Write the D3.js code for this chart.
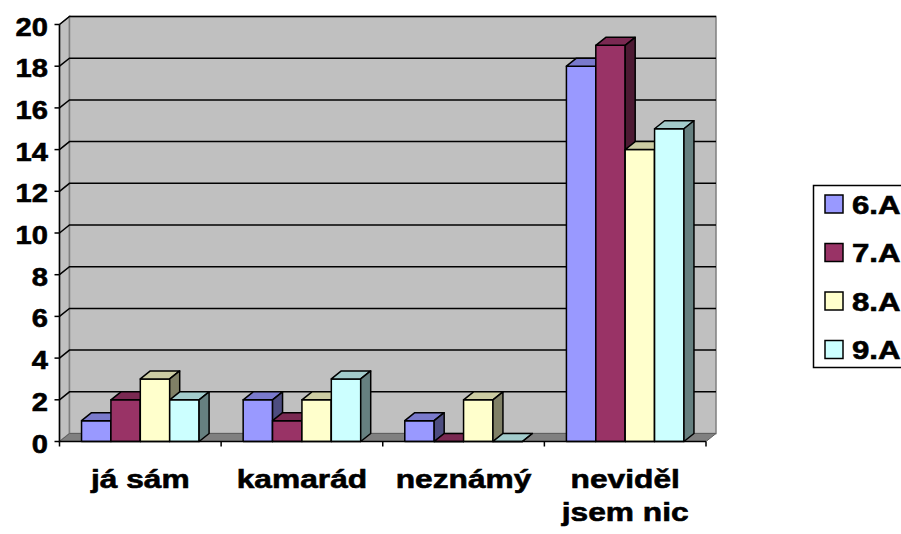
<!DOCTYPE html>
<html>
<head>
<meta charset="utf-8">
<script src="https://cdn.jsdelivr.net/npm/d3@7"></script>
<style>
  body { margin: 0; background: #fff; }
  text { font-family: "Liberation Sans", Arial, sans-serif; font-weight: bold; fill: #000; stroke: #000; stroke-width: 0.6px; }
</style>
</head>
<body>
<div id="chart"></div>
<script>
// data
const categories = ['já sám', 'kamarád', 'neznámý', 'neviděl jsem nic'];
const categoryLines = [['já sám'], ['kamarád'], ['neznámý'], ['neviděl', 'jsem nic']];
const seriesNames = ['6.A', '7.A', '8.A', '9.A'];
const values6A = [1, 2, 1, 18];
const values7A = [2, 1, 0, 19];
const values8A = [3, 2, 2, 14];
const values9A = [2, 3, 0, 15];
const yTicks = [0, 2, 4, 6, 8, 10, 12, 14, 16, 18, 20];

const seriesValues = [values6A, values7A, values8A, values9A];
const fronts = ['#9999FF', '#993366', '#FFFFCC', '#CCFFFF'];

function shade(c, k) {
    const r = d3.rgb(c);
    return d3.rgb(r.r * k, r.g * k, r.b * k).formatHex();
}

const width = 901, height = 534;
const depthX = 10, depthY = -8;

const svg = d3.select('#chart')
    .append('svg')
    .attr('width', width)
    .attr('height', height);

const x = d3.scaleBand()
    .domain(categories)
    .range([59.5, 706])
    .paddingInner(0)
    .paddingOuter(0);

const xs = d3.scaleBand()
    .domain(seriesNames)
    .range([0, x.bandwidth()])
    .paddingInner(0)
    .paddingOuter(0.75);

const y = d3.scaleLinear()
    .domain([0, 20])
    .range([441.5, 24.5]);

const x0 = x.range()[0], x1 = x.range()[1];
const yb = y(0), yt = y(20);

const poly = pts => 'M' + pts.map(p => p.join(',')).join('L') + 'Z';

// side wall
svg.append('path')
    .attr('d', poly([[x0, yb], [x0 + depthX, yb + depthY], [x0 + depthX, yt + depthY], [x0, yt]]))
    .style('fill', '#C0C0C0')
    .style('stroke', '#808080')
    .style('stroke-width', 1.5);

// back wall
svg.append('rect')
    .attr('x', x0 + depthX)
    .attr('y', yt + depthY)
    .attr('width', x1 - x0)
    .attr('height', yb - yt)
    .style('fill', '#C0C0C0')
    .style('stroke', '#808080')
    .style('stroke-width', 1.5);

// floor
svg.append('path')
    .attr('d', poly([[x0, yb], [x1, yb], [x1 + depthX, yb + depthY], [x0 + depthX, yb + depthY]]))
    .style('fill', '#808080')
    .style('stroke', '#606060')
    .style('stroke-width', 1);

// gridlines on side + back wall
const grid = svg.append('g');
grid.selectAll('.g')
    .data(yTicks.filter(d => d > 0))
    .enter()
    .append('path')
    .attr('d', d => `M${x0},${y(d)}L${x0 + depthX},${y(d) + depthY}L${x1 + depthX},${y(d) + depthY}`)
    .style('fill', 'none')
    .style('stroke', '#000')
    .style('stroke-width', 1.5);

// bars
const bars = svg.append('g');
categories.forEach((c, ci) => {
    seriesNames.forEach((s, si) => {
        const v = seriesValues[si][ci];
        const bx0 = x(c) + xs(s);
        const bx1 = bx0 + xs.bandwidth();
        const top = y(v);
        const g = bars.append('g')
            .style('stroke', '#000')
            .style('stroke-width', 1.5)
            .style('stroke-linejoin', 'round');
        g.append('path')
            .attr('d', poly([[bx0, yb], [bx1, yb], [bx1, top], [bx0, top]]))
            .style('fill', fronts[si]);
        g.append('path')
            .attr('d', poly([[bx0, top], [bx1, top], [bx1 + depthX, top + depthY], [bx0 + depthX, top + depthY]]))
            .style('fill', shade(fronts[si], 0.8));
        g.append('path')
            .attr('d', poly([[bx1, yb], [bx1 + depthX, yb + depthY], [bx1 + depthX, top + depthY], [bx1, top]]))
            .style('fill', shade(fronts[si], 0.5));
    });
});

// axes
svg.append('line')
    .attr('x1', x0).attr('x2', x0)
    .attr('y1', yt).attr('y2', yb)
    .style('stroke', '#000').style('stroke-width', 1.5);
svg.append('line')
    .attr('x1', x0).attr('x2', x1)
    .attr('y1', yb).attr('y2', yb)
    .style('stroke', '#000').style('stroke-width', 1.5);

const yAxis = svg.append('g');
yAxis.selectAll('.tick')
    .data(yTicks)
    .enter()
    .append('line')
    .attr('x1', x0 - 5).attr('x2', x0)
    .attr('y1', d => y(d)).attr('y2', d => y(d))
    .style('stroke', '#000').style('stroke-width', 1.5);
yAxis.selectAll('.lbl')
    .data(yTicks)
    .enter()
    .append('text')
    .attr('transform', d => `translate(48,${y(d) + 11}) scale(1.12,1)`)
    .attr('text-anchor', 'end')
    .style('font-size', '26px')
    .text(d => d);

const xAxis = svg.append('g');
xAxis.selectAll('.tick')
    .data(categories.concat(['end']))
    .enter()
    .append('line')
    .attr('x1', (d, i) => i < categories.length ? x(d) : x1)
    .attr('x2', (d, i) => i < categories.length ? x(d) : x1)
    .attr('y1', yb).attr('y2', yb + 5)
    .style('stroke', '#000').style('stroke-width', 1.5);
categoryLines.forEach((lines, ci) => {
    lines.forEach((t, li) => {
        xAxis.append('text')
            .attr('transform', `translate(${x(categories[ci]) + x.bandwidth() / 2},${488 + li * 33}) scale(1.22,1)`)
            .attr('text-anchor', 'middle')
            .style('font-size', '26px')
            .text(t);
    });
});

// legend
const legend = svg.append('g');
legend.append('rect')
    .attr('x', 813.5).attr('y', 185.5)
    .attr('width', 130).attr('height', 182)
    .style('fill', '#fff')
    .style('stroke', '#000')
    .style('stroke-width', 1.5);
const items = legend.selectAll('.item')
    .data(seriesNames)
    .enter()
    .append('g')
    .attr('transform', (d, i) => `translate(825,${195 + i * 48.5})`);
items.append('rect')
    .attr('width', 18).attr('height', 18)
    .style('fill', (d, i) => fronts[i])
    .style('stroke', '#000')
    .style('stroke-width', 1.5);
items.append('text')
    .attr('transform', 'translate(27,18.5) scale(1.2,1)')
    .style('font-size', '26px')
    .text(d => d);
</script>
</body>
</html>
